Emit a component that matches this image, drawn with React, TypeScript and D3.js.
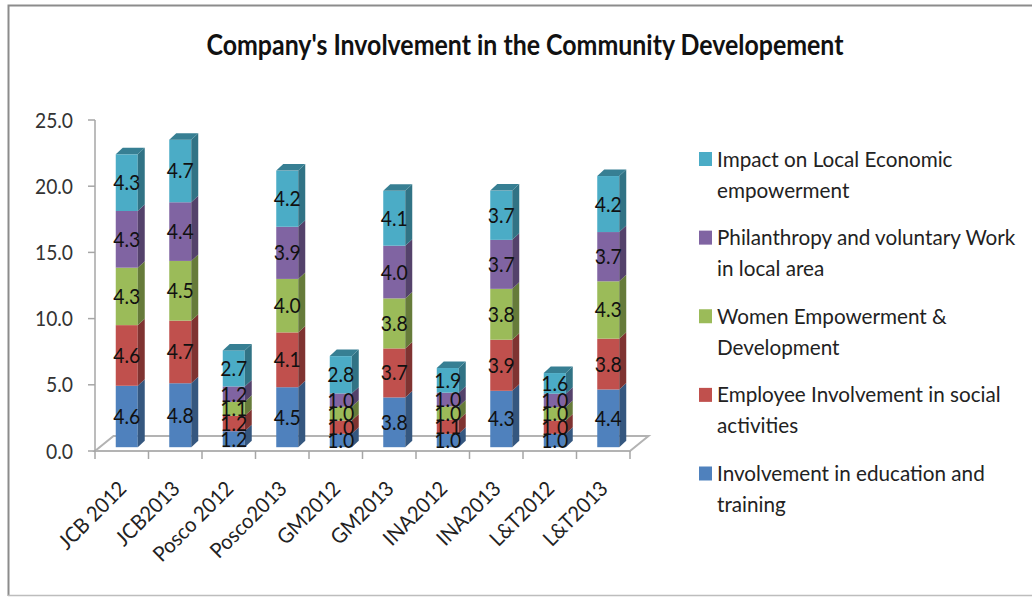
import React from "react";
import * as d3 from "d3";

const categories = ["JCB 2012","JCB2013","Posco 2012","Posco2013","GM2012","GM2013","INA2012","INA2013","L&T2012","L&T2013"];
const education = [4.64,4.83,1.21,4.53,1.01,3.76,1.01,4.26,1.01,4.36];
const employee = [4.58,4.73,1.16,4.14,1.01,3.7,1.06,3.86,1.01,3.84];
const women = [4.34,4.51,1.06,4.04,1.03,3.78,1.01,3.84,1.01,4.33];
const philanthropy = [4.28,4.43,1.16,3.94,1.01,3.98,1.04,3.7,1.01,3.72];
const impact = [4.28,4.73,2.72,4.24,2.82,4.14,1.86,3.72,1.56,4.23];
const yTicks = [0,5,10,15,20,25];
const seriesNames = ["education","employee","women","philanthropy","impact"];
const seriesValues = [education,employee,women,philanthropy,impact];
const front = ["#4f81bd","#c0504d","#9bbb59","#8064a2","#4bacc6"];
const side = ["#35577f","#7f3331","#667b3a","#54426b","#317385"];
const topColor = "#377f93";
const legendLines = [
  ["Impact on Local Economic","empowerment"],
  ["Philanthropy and voluntary Work","in local area"],
  ["Women Empowerment &","Development"],
  ["Employee Involvement in social","activities"],
  ["Involvement in education and","training"],
];
const legendColors = ["#4bacc6","#8064a2","#9bbb59","#c0504d","#4f81bd"];

const font = "Lato, sans-serif";
const x = d3.scaleBand<string>().domain(categories).range([95,630]);
const y = d3.scaleLinear().domain([0,25]).range([451,120]);
const legendY = d3.scaleLinear().domain([0,4]).range([152,466.5]);
const rows = categories.map((c,i)=>{
  const r: any = {c};
  seriesNames.forEach((s,k)=>{ r[s]=seriesValues[k][i]; });
  return r;
});
const stacked = d3.stack<any>().keys(seriesNames)(rows);
const barW = 22, dx = 7, dy = 6.5, lift = 3.8, barOff = 5;
const floorDx = 18.5, floorDy = 15;
const pts = (a: number[][]) => a.map(p=>p.join(",")).join(" ");

export default function App(){
  const bw = x.bandwidth();
  const x0 = x.range()[0], x1 = x.range()[1], y0 = y(0);
  return (
    <svg width={1032} height={597} style={{position:"absolute",left:0,top:0,background:"#fff"}} fontFamily={font}>
      <path d="M8.5,596 L8.5,5.5 L1032,5.5" fill="none" stroke="#8c8c8c" strokeWidth={2}/>
      <line x1={8} x2={1032} y1={595.5} y2={595.5} stroke="#bdbdbd" strokeWidth={1.5}/>
      <text x={525} y={55} textAnchor="middle" fontSize={28} fontWeight={700} fill="#111" textLength={637} lengthAdjust="spacingAndGlyphs">Company's Involvement in the Community Developement</text>

      <polygon points={pts([[x0,y0],[x1,y0],[x1+floorDx,y0-floorDy],[x0+floorDx,y0-floorDy]])} fill="none" stroke="#b3b3b3" strokeWidth={2}/>
      <line x1={x0} x2={x0} y1={y(25)} y2={y0} stroke="#a6a6a6" strokeWidth={1.5}/>
      {yTicks.map(t=>{
        const label = t.toFixed(1);
        const w = label.length === 3 ? 27 : 38;
        return (
          <g key={t}>
            <line x1={x0-7} x2={x0} y1={y(t)} y2={y(t)} stroke="#a6a6a6" strokeWidth={1.5}/>
            <text x={73-w} y={y(t)+7.5} fontSize={21.5} fill="#333" textLength={w} lengthAdjust="spacingAndGlyphs">{label}</text>
          </g>
        );
      })}
      {categories.map(c=>(
        <line key={c} x1={x(c)!} x2={x(c)!} y1={y0} y2={y0+8} stroke="#a6a6a6" strokeWidth={1.5}/>
      ))}
      <line x1={x1} x2={x1} y1={y0} y2={y0+8} stroke="#a6a6a6" strokeWidth={1.5}/>

      {categories.map((c,i)=>{
        const l = x(c)! + bw/2 - barW/2 + barOff;
        const r = l + barW;
        return (
          <g key={c}>
            {stacked.map((s,k)=>{
              const yb = y(s[i][0]) - lift, yt = y(s[i][1]) - lift;
              return (
                <g key={k}>
                  <rect x={l} y={yt} width={barW} height={yb-yt} fill={front[k]}/>
                  <polygon points={pts([[r,yb],[r+dx,yb-dy],[r+dx,yt-dy],[r,yt]])} fill={side[k]}/>
                  {k===stacked.length-1 && <polygon points={pts([[l,yt],[r,yt],[r+dx,yt-dy],[l+dx,yt-dy]])} fill={topColor}/>}
                </g>
              );
            })}
          </g>
        );
      })}
      {categories.map((c,i)=>{
        const cx = x(c)! + bw/2 + barOff;
        return stacked.map((s,k)=>(
          <text key={c+k} x={cx-13.5} y={(y(s[i][0])+y(s[i][1]))/2 - lift + 7.5} fontSize={22} fill="#111" textLength={27} lengthAdjust="spacingAndGlyphs">{seriesValues[k][i].toFixed(1)}</text>
        ));
      })}
      {categories.map(c=>{
        const ax = x(c)! + bw/2 + 6, ay = 490;
        return <text key={c} transform={`translate(${ax},${ay}) rotate(-45) scale(0.95,1)`} textAnchor="end" fontSize={21} fill="#222">{c}</text>;
      })}
      {legendLines.map((lines,i)=>(
        <g key={i}>
          <rect x={699} y={legendY(i)} width={13} height={14} fill={legendColors[i]}/>
          {lines.map((t,j)=>(
            <text key={j} transform={`translate(717,${legendY(i)+14.5+j*31}) scale(0.94,1)`} fontSize={22} fill="#222">{t}</text>
          ))}
        </g>
      ))}
    </svg>
  );
}
